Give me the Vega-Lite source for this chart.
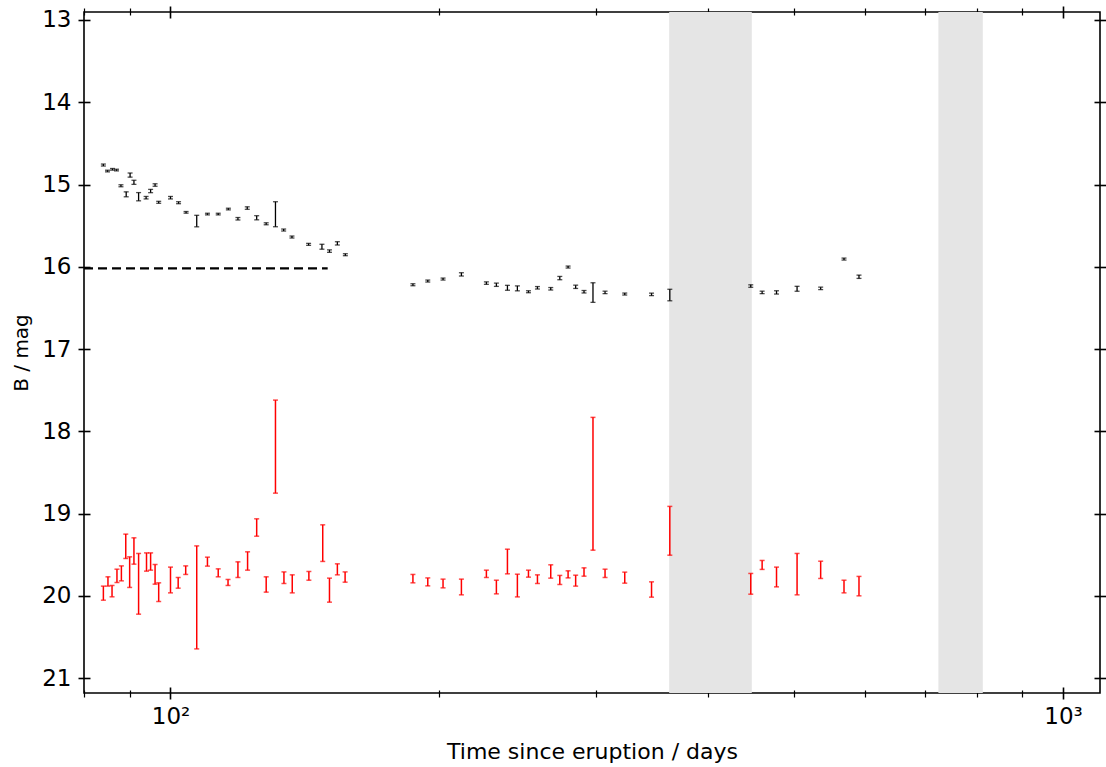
{
  "$schema": "https://vega.github.io/schema/vega-lite/v6.json",
  "width": 1016,
  "height": 681,
  "autosize": {"type": "none"},
  "padding": {"left": 84, "top": 12, "right": 6, "bottom": 74},
  "background": "white",
  "config": {
    "view": {"stroke": "black", "strokeWidth": 1.6},
    "font": "DejaVu Sans",
    "axis": {"domain": false, "grid": false, "tickColor": "black", "labelColor": "black", "titleColor": "black", "labelFont": "DejaVu Sans", "titleFont": "DejaVu Sans", "labelFontSize": 23, "titleFontSize": 21, "titleFontWeight": "normal", "tickWidth": 1.6}
  },
  "datasets": {
    "bands": [{"start": 362, "end": 448}, {"start": 725, "end": 813}],
    "dash": [{"t0": 80, "t1": 150, "B": 16.02}],
    "black": [
      {"t": 84.1, "lo": 14.751, "hi": 14.775},
      {"t": 85.0, "lo": 14.826, "hi": 14.846},
      {"t": 86.1, "lo": 14.805, "hi": 14.825},
      {"t": 87.0, "lo": 14.814, "hi": 14.834},
      {"t": 88.0, "lo": 15.003, "hi": 15.027},
      {"t": 89.2, "lo": 15.089, "hi": 15.149},
      {"t": 90.1, "lo": 14.86, "hi": 14.91},
      {"t": 91.0, "lo": 14.948, "hi": 14.998},
      {"t": 92.1, "lo": 15.098, "hi": 15.198},
      {"t": 93.9, "lo": 15.145, "hi": 15.175},
      {"t": 95.0, "lo": 15.059, "hi": 15.099},
      {"t": 96.1, "lo": 14.991, "hi": 15.021},
      {"t": 97.0, "lo": 15.204, "hi": 15.228},
      {"t": 100.0, "lo": 15.145, "hi": 15.175},
      {"t": 102.1, "lo": 15.209, "hi": 15.233},
      {"t": 104.1, "lo": 15.328, "hi": 15.348},
      {"t": 107.0, "lo": 15.374, "hi": 15.514},
      {"t": 110.0, "lo": 15.349, "hi": 15.369},
      {"t": 113.1, "lo": 15.349, "hi": 15.369},
      {"t": 116.1, "lo": 15.288, "hi": 15.308},
      {"t": 119.0, "lo": 15.401, "hi": 15.431},
      {"t": 121.9, "lo": 15.271, "hi": 15.301},
      {"t": 124.9, "lo": 15.379, "hi": 15.429},
      {"t": 128.0, "lo": 15.465, "hi": 15.489},
      {"t": 131.1, "lo": 15.209, "hi": 15.513},
      {"t": 133.9, "lo": 15.541, "hi": 15.565},
      {"t": 136.8, "lo": 15.626, "hi": 15.65},
      {"t": 142.8, "lo": 15.715, "hi": 15.739},
      {"t": 147.8, "lo": 15.726, "hi": 15.786},
      {"t": 150.7, "lo": 15.794, "hi": 15.824},
      {"t": 153.8, "lo": 15.695, "hi": 15.735},
      {"t": 157.0, "lo": 15.841, "hi": 15.865},
      {"t": 186.9, "lo": 16.206, "hi": 16.23},
      {"t": 194.2, "lo": 16.161, "hi": 16.185},
      {"t": 202.0, "lo": 16.137, "hi": 16.161},
      {"t": 211.8, "lo": 16.072, "hi": 16.112},
      {"t": 225.9, "lo": 16.183, "hi": 16.213},
      {"t": 231.8, "lo": 16.198, "hi": 16.238},
      {"t": 238.5, "lo": 16.225, "hi": 16.285},
      {"t": 244.7, "lo": 16.232, "hi": 16.292},
      {"t": 251.8, "lo": 16.291, "hi": 16.315},
      {"t": 257.7, "lo": 16.24, "hi": 16.27},
      {"t": 266.7, "lo": 16.252, "hi": 16.282},
      {"t": 273.0, "lo": 16.117, "hi": 16.157},
      {"t": 278.9, "lo": 15.991, "hi": 16.015},
      {"t": 284.4, "lo": 16.223, "hi": 16.263},
      {"t": 290.6, "lo": 16.288, "hi": 16.318},
      {"t": 297.4, "lo": 16.194, "hi": 16.432},
      {"t": 306.8, "lo": 16.296, "hi": 16.326},
      {"t": 322.8, "lo": 16.319, "hi": 16.343},
      {"t": 345.9, "lo": 16.32, "hi": 16.35},
      {"t": 362.6, "lo": 16.273, "hi": 16.413},
      {"t": 446.8, "lo": 16.219, "hi": 16.249},
      {"t": 460.1, "lo": 16.296, "hi": 16.326},
      {"t": 477.5, "lo": 16.291, "hi": 16.331},
      {"t": 503.5, "lo": 16.237, "hi": 16.297},
      {"t": 535.1, "lo": 16.247, "hi": 16.277},
      {"t": 568.3, "lo": 15.894, "hi": 15.918},
      {"t": 590.7, "lo": 16.101, "hi": 16.141}
    ],
    "red": [
      {"t": 84.1, "lo": 19.881, "hi": 20.052},
      {"t": 85.1, "lo": 19.768, "hi": 19.881},
      {"t": 86.0, "lo": 19.873, "hi": 20.011},
      {"t": 87.1, "lo": 19.675, "hi": 19.837},
      {"t": 88.1, "lo": 19.635, "hi": 19.817},
      {"t": 89.1, "lo": 19.249, "hi": 19.545},
      {"t": 90.0, "lo": 19.525, "hi": 19.897},
      {"t": 91.0, "lo": 19.294, "hi": 19.614},
      {"t": 92.1, "lo": 19.484, "hi": 20.222},
      {"t": 94.0, "lo": 19.477, "hi": 19.699},
      {"t": 95.0, "lo": 19.477, "hi": 19.687},
      {"t": 96.1, "lo": 19.618, "hi": 19.857},
      {"t": 97.0, "lo": 19.841, "hi": 20.068},
      {"t": 100.0, "lo": 19.65, "hi": 19.963},
      {"t": 102.0, "lo": 19.776, "hi": 19.906},
      {"t": 104.0, "lo": 19.635, "hi": 19.739},
      {"t": 107.0, "lo": 19.392, "hi": 20.644},
      {"t": 110.0, "lo": 19.529, "hi": 19.638},
      {"t": 113.1, "lo": 19.671, "hi": 19.768},
      {"t": 116.0, "lo": 19.8, "hi": 19.873},
      {"t": 119.0, "lo": 19.586, "hi": 19.776},
      {"t": 122.0, "lo": 19.464, "hi": 19.687},
      {"t": 124.9, "lo": 19.063, "hi": 19.274},
      {"t": 128.0, "lo": 19.768, "hi": 19.954},
      {"t": 131.1, "lo": 17.62, "hi": 18.751},
      {"t": 134.0, "lo": 19.708, "hi": 19.849},
      {"t": 136.9, "lo": 19.744, "hi": 19.963},
      {"t": 142.9, "lo": 19.703, "hi": 19.809},
      {"t": 148.1, "lo": 19.136, "hi": 19.581},
      {"t": 150.7, "lo": 19.784, "hi": 20.076},
      {"t": 153.8, "lo": 19.61, "hi": 19.744},
      {"t": 156.9, "lo": 19.708, "hi": 19.833},
      {"t": 186.9, "lo": 19.739, "hi": 19.841},
      {"t": 194.2, "lo": 19.781, "hi": 19.878},
      {"t": 202.0, "lo": 19.796, "hi": 19.902},
      {"t": 211.8, "lo": 19.796, "hi": 19.987},
      {"t": 225.9, "lo": 19.687, "hi": 19.776},
      {"t": 231.8, "lo": 19.809, "hi": 19.975},
      {"t": 238.5, "lo": 19.432, "hi": 19.732},
      {"t": 244.7, "lo": 19.736, "hi": 20.012},
      {"t": 251.8, "lo": 19.687, "hi": 19.772},
      {"t": 257.7, "lo": 19.744, "hi": 19.849},
      {"t": 266.7, "lo": 19.622, "hi": 19.784},
      {"t": 273.0, "lo": 19.751, "hi": 19.861},
      {"t": 278.9, "lo": 19.695, "hi": 19.781},
      {"t": 284.4, "lo": 19.748, "hi": 19.881},
      {"t": 290.6, "lo": 19.659, "hi": 19.76},
      {"t": 297.4, "lo": 17.83, "hi": 19.444},
      {"t": 306.8, "lo": 19.675, "hi": 19.776},
      {"t": 322.8, "lo": 19.711, "hi": 19.845},
      {"t": 345.9, "lo": 19.829, "hi": 20.015},
      {"t": 362.6, "lo": 18.912, "hi": 19.505},
      {"t": 446.8, "lo": 19.727, "hi": 19.979},
      {"t": 460.1, "lo": 19.569, "hi": 19.678},
      {"t": 477.5, "lo": 19.65, "hi": 19.89},
      {"t": 503.5, "lo": 19.484, "hi": 19.987},
      {"t": 535.1, "lo": 19.578, "hi": 19.788},
      {"t": 568.3, "lo": 19.809, "hi": 19.963},
      {"t": 590.7, "lo": 19.763, "hi": 19.999}
    ]
  },
  "layer": [
    {
      "data": {"name": "bands"},
      "mark": {"type": "rect", "color": "#e5e5e5"},
      "encoding": {
        "x": {"field": "start", "type": "quantitative", "scale": {"type": "log", "domain": [80, 1100], "nice": false},
          "axis": {"orient": "bottom", "values": [100, 1000], "labelExpr": "datum.value == 100 ? '10²' : '10³'", "offset": -6, "tickSize": 12, "labelPadding": 6, "title": "Time since eruption / days", "titleFontSize": 22, "titlePadding": 13}},
        "x2": {"field": "end"}
      }
    },
    {
      "data": {"name": "dash"},
      "mark": {"type": "rule", "color": "black", "strokeDash": [9, 5], "strokeWidth": 2.2},
      "encoding": {
        "x": {"field": "t0", "type": "quantitative", "scale": {"type": "log", "domain": [80, 1100], "nice": false},
          "axis": {"orient": "bottom", "values": [80, 90, 200, 300, 400, 500, 600, 700, 800, 900], "labels": false, "offset": -3, "tickSize": 7, "tickWidth": 1.2, "title": null}},
        "x2": {"field": "t1"},
        "y": {"field": "B", "type": "quantitative", "scale": {"domain": [12.903, 21.18], "reverse": true, "nice": false, "zero": false},
          "axis": {"orient": "left", "values": [13, 14, 15, 16, 17, 18, 19, 20, 21], "offset": -6, "tickSize": 12, "labelPadding": 7, "title": "B / mag", "titleFontSize": 20, "titlePadding": 10}}
      }
    },
    {
      "data": {"name": "black"},
      "mark": {"type": "rule", "color": "black", "strokeWidth": 1.3},
      "encoding": {
        "x": {"field": "t", "type": "quantitative", "scale": {"type": "log", "domain": [80, 1100], "nice": false},
          "axis": {"orient": "top", "values": [100, 1000], "labels": false, "offset": -6, "tickSize": 12, "title": null}},
        "y": {"field": "lo", "type": "quantitative", "scale": {"domain": [12.903, 21.18], "reverse": true, "nice": false, "zero": false},
          "axis": {"orient": "right", "values": [13, 14, 15, 16, 17, 18, 19, 20, 21], "labels": false, "offset": -6, "tickSize": 12, "title": null}},
        "y2": {"field": "hi"}
      }
    },
    {
      "data": {"name": "black"},
      "mark": {"type": "tick", "orient": "horizontal", "color": "black", "size": 5, "thickness": 1.3},
      "encoding": {
        "x": {"field": "t", "type": "quantitative", "scale": {"type": "log", "domain": [80, 1100], "nice": false},
          "axis": {"orient": "top", "values": [80, 90, 200, 300, 400, 500, 600, 700, 800, 900], "labels": false, "offset": -3, "tickSize": 7, "tickWidth": 1.2, "title": null}},
        "y": {"field": "lo", "type": "quantitative", "axis": null}
      }
    },
    {
      "data": {"name": "black"},
      "mark": {"type": "tick", "orient": "horizontal", "color": "black", "size": 5, "thickness": 1.3},
      "encoding": {
        "x": {"field": "t", "type": "quantitative", "axis": null},
        "y": {"field": "hi", "type": "quantitative", "axis": null}
      }
    },
    {
      "data": {"name": "red"},
      "mark": {"type": "rule", "color": "#ff0000", "strokeWidth": 1.5},
      "encoding": {
        "x": {"field": "t", "type": "quantitative", "axis": null},
        "y": {"field": "lo", "type": "quantitative", "axis": null},
        "y2": {"field": "hi"}
      }
    },
    {
      "data": {"name": "red"},
      "mark": {"type": "tick", "orient": "horizontal", "color": "#ff0000", "size": 5, "thickness": 1.5},
      "encoding": {
        "x": {"field": "t", "type": "quantitative", "axis": null},
        "y": {"field": "lo", "type": "quantitative", "axis": null}
      }
    },
    {
      "data": {"name": "red"},
      "mark": {"type": "tick", "orient": "horizontal", "color": "#ff0000", "size": 5, "thickness": 1.5},
      "encoding": {
        "x": {"field": "t", "type": "quantitative", "axis": null},
        "y": {"field": "hi", "type": "quantitative", "axis": null}
      }
    }
  ],
  "resolve": {"axis": {"x": "independent", "y": "independent"}}
}
